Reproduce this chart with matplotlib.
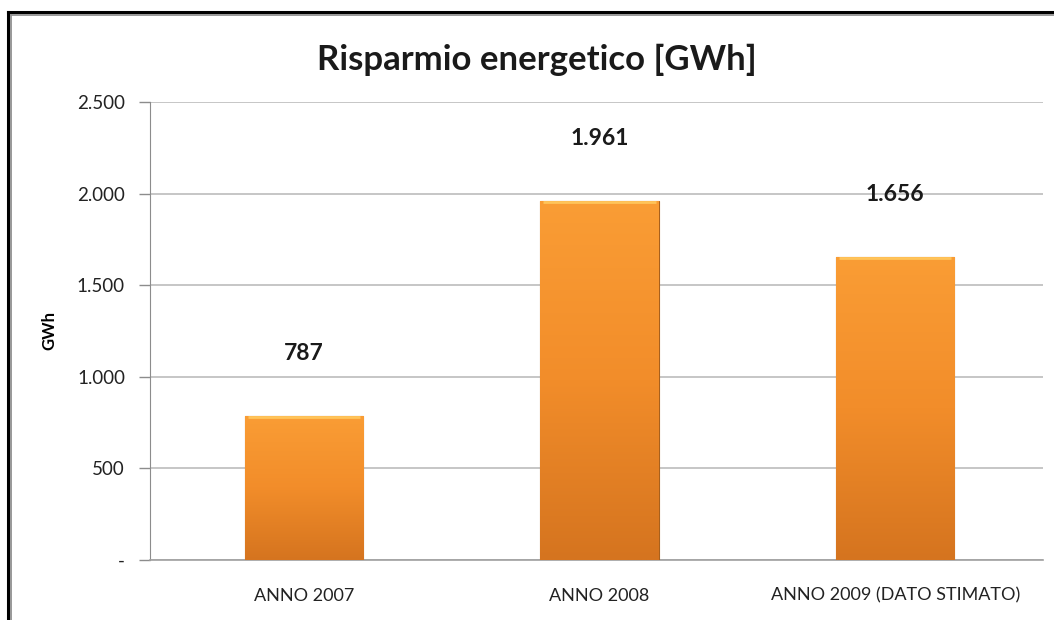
import matplotlib
matplotlib.use('Agg')
import matplotlib.pyplot as plt
import numpy as np
from matplotlib.lines import Line2D
from matplotlib.ticker import FuncFormatter

plt.rcParams['font.family'] = ['Lato', 'DejaVu Sans']

categorie = ['ANNO 2007', 'ANNO 2008', 'ANNO 2009 (DATO STIMATO)']
valori = [787, 1961, 1656]
etichette = ['787', '1.961', '1.656']

fig = plt.figure(figsize=(10.54, 6.2), dpi=100)
ax = fig.add_axes([150 / 1054, 1 - 560 / 620, (1043 - 150) / 1054, (560 - 102) / 620])

x = np.arange(len(categorie))
barre = ax.bar(x, valori, width=0.4, color='#f0902c', edgecolor='#a8601c', linewidth=0.8, zorder=3)

# sfumatura verticale sulle barre
grad = np.linspace(0, 1, 256).reshape(-1, 1)
cmap = matplotlib.colors.LinearSegmentedColormap.from_list('arancio', ['#d5741f', '#f28d2a', '#fa9d35'])
for b in barre:
    im = ax.imshow(grad, cmap=cmap, aspect='auto', origin='lower', zorder=3.5,
                   extent=[b.get_x(), b.get_x() + b.get_width(), 0, b.get_height()])
    im.set_clip_path(b)
    # bordo chiaro in alto
    ax.plot([b.get_x() + 0.01, b.get_x() + b.get_width() - 0.01], [b.get_height() - 8, b.get_height() - 8],
            color='#ffc45a', lw=2, zorder=4, solid_capstyle='butt')

for xi, v, t in zip(x, valori, etichette):
    ax.annotate(t, (xi, v), xytext=(0, 45), textcoords='offset points', ha='center', va='center',
                fontsize=16.5, fontweight='bold', color='#1a1a1a')

ax.set_xlim(-0.52, 2.5)
ax.set_ylim(0, 2500)
ax.set_yticks([0, 500, 1000, 1500, 2000, 2500])
ax.yaxis.set_major_formatter(FuncFormatter(lambda v, p: '-' if v == 0 else f'{int(v):,}'.replace(',', '.')))
ax.set_xticks(x)
ax.set_xticklabels(categorie)
ax.tick_params(axis='x', length=0, pad=20, labelsize=13, colors='#222222')
ax.tick_params(axis='y', length=8, width=1, color='#8c8c8c', labelsize=13.5, pad=10, labelcolor='#222222')
ax.grid(axis='y', color='#bcbcbc', lw=1.2, zorder=0)
ax.set_axisbelow(True)
for s in ['top', 'right']:
    ax.spines[s].set_visible(False)
ax.spines['left'].set_color('#8c8c8c')
ax.spines['bottom'].set_color('#a0a0a0')
ax.spines['bottom'].set_linewidth(1.2)

ax.set_ylabel('GWh', fontsize=12, fontweight='bold', labelpad=14)
fig.text(537 / 1054, 1 - 60 / 620, 'Risparmio energetico [GWh]', ha='center', va='center',
         fontsize=25, fontweight='bold', color='#1a1a1a')

# cornice del grafico
fig.add_artist(Line2D([8 / 1054, 8 / 1054], [0, 1 - 12 / 620], color='black', lw=2.2, transform=fig.transFigure))
fig.add_artist(Line2D([8 / 1054, 1], [1 - 12 / 620, 1 - 12 / 620], color='black', lw=2.2, transform=fig.transFigure))
fig.add_artist(Line2D([11 / 1054, 11 / 1054], [0, 1 - 14.5 / 620], color='#909090', lw=1.3, transform=fig.transFigure))
fig.add_artist(Line2D([11 / 1054, 1], [1 - 14.5 / 620, 1 - 14.5 / 620], color='#909090', lw=1.3, transform=fig.transFigure))

fig.savefig('out.png', dpi=100)
